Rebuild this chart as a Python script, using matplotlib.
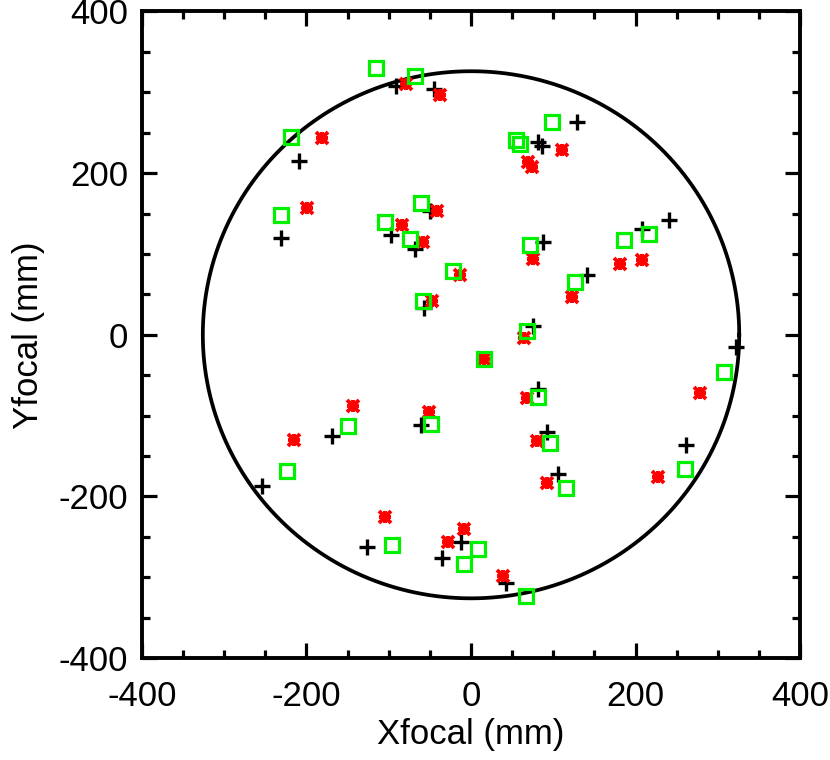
import numpy as np
import matplotlib
matplotlib.use("Agg")
import matplotlib.pyplot as plt
from matplotlib.ticker import MultipleLocator

plt.rcParams['font.family'] = ['Liberation Sans', 'DejaVu Sans']
plt.rcParams['axes.unicode_minus'] = False

# Black plus positions (mm)
plus_x = [-91.7, -44.4, -208.9, -231.5, -49.7, -97.8, -67.5, -56.6, 128.5, 80.8,
          86.0, 86.9, 208.1, 240.4, 141.4, 74.8, 322.4, 80.8, 92.1, 105.8,
          261.8, -12.1, 42.4, -168.9, -254.5, -60.6, -126.0, -35.6]
plus_y = [308.0, 304.0, 214.9, 119.6, 152.6, 122.9, 106.0, 33.0, 262.7, 237.9,
          233.0, 114.7, 131.1, 141.4, 74.2, 10.3, -15.3, -67.2, -120.4, -172.0,
          -136.1, -255.7, -307.2, -125.8, -187.6, -112.2, -262.7, -276.3]

# Red asterisk positions (mm)
star_x = [-78.8, -37.2, -180.6, -198.8, -41.6, -83.6, -58.6, -13.0, -47.3, 111.1,
          68.7, 73.9, 74.8, 181.0, 208.1, 122.4, 64.6, 16.2, 278.0, 67.9,
          79.6, 92.1, 227.0, -8.9, 38.4, -143.4, -214.9, -50.5, -105.0, -28.2]
star_y = [310.0, 296.0, 243.0, 156.7, 153.4, 135.2, 114.2, 74.2, 42.0, 228.0,
          213.6, 207.5, 93.6, 87.5, 92.8, 46.2, -4.1, -30.0, -72.2, -78.4,
          -132.0, -183.5, -176.5, -240.4, -298.2, -88.7, -129.9, -94.9, -225.6, -256.5]

# Green square positions (mm)
sq_x = [-115.2, -68.7, -219.0, -231.5, -60.6, -105.0, -74.7, -22.2, -57.8, 98.2,
        54.5, 59.8, 71.5, 185.9, 216.2, 126.5, 67.5, 16.2, 307.0, 80.8,
        95.8, 115.2, 260.6, 8.9, -8.9, 66.7, -149.5, -224.2, -48.5, -95.8]
sq_y = [330.0, 320.4, 245.0, 147.6, 163.0, 139.0, 118.4, 79.2, 41.2, 262.7,
        241.2, 236.3, 111.3, 117.5, 125.0, 64.7, 4.1, -30.0, -46.6, -77.5,
        -134.0, -189.7, -166.2, -264.8, -283.7, -322.5, -113.4, -168.3, -110.5, -259.8]

radius = 326.0
xlim = (-400, 400)
ylim = (-400, 400)
ticks = [-400, -200, 0, 200, 400]

fig = plt.figure(figsize=(8.3, 7.6), dpi=100)
ax = fig.add_axes([0.171, 0.134, 0.793, 0.851])

theta = np.linspace(0, 2 * np.pi, 721)
ax.plot(radius * np.cos(theta), radius * np.sin(theta), color='black', lw=2.7, zorder=1)

ax.plot(plus_x, plus_y, ls='none', marker='+', ms=11, mew=2.4, color='black', zorder=2)
ax.plot(star_x, star_y, ls='none', marker='x', ms=8, mew=2.8, color='#ff0000', zorder=3)
ax.plot(star_x, star_y, ls='none', marker='+', ms=9, mew=2.8, color='#ff0000', zorder=3)
ax.plot(sq_x, sq_y, ls='none', marker='s', ms=10, mew=2.3, mfc='none', mec='#00f000', zorder=4)

ax.set_xlim(*xlim)
ax.set_ylim(*ylim)
ax.set_xticks(ticks)
ax.set_yticks(ticks)
ax.xaxis.set_minor_locator(MultipleLocator(50))
ax.yaxis.set_minor_locator(MultipleLocator(50))
ax.tick_params(which='both', direction='in', top=True, right=True, width=2.3, labelsize=25)
ax.tick_params(which='major', length=11)
ax.tick_params(which='minor', length=6)
ax.tick_params(axis='x', which='major', pad=16)
ax.tick_params(axis='y', which='major', pad=10)
ax.tick_params(labeltop=False, labelright=False)
for s in ax.spines.values():
    s.set_linewidth(2.8)

ax.set_xlabel('Xfocal (mm)', fontsize=25, labelpad=3)
ax.set_ylabel('Yfocal (mm)', fontsize=25, labelpad=10)

fig.savefig('out.png', dpi=100)
